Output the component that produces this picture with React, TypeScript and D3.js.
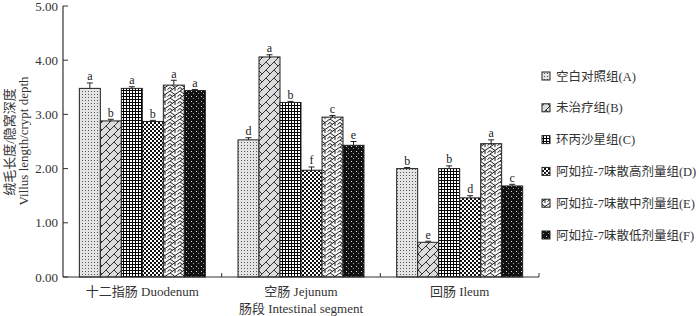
import React from "react";
import * as d3 from "d3";

const categories = ["十二指肠 Duodenum", "空肠 Jejunum", "回肠 Ileum"];
const groups = ["空白对照组(A)", "未治疗组(B)", "环丙沙星组(C)", "阿如拉-7味散高剂量组(D)", "阿如拉-7味散中剂量组(E)", "阿如拉-7味散低剂量组(F)"];
// values[group][category]
const values = [
  [3.48, 2.53, 2.0],
  [2.88, 4.06, 0.64],
  [3.48, 3.22, 2.0],
  [2.87, 1.97, 1.46],
  [3.54, 2.95, 2.46],
  [3.44, 2.43, 1.68],
];
const errors = [
  [0.1, 0.04, 0.02],
  [0.03, 0.04, 0.02],
  [0.03, 0.02, 0.05],
  [0.02, 0.06, 0.04],
  [0.09, 0.03, 0.07],
  [0.02, 0.07, 0.03],
];
const letters = [
  ["a", "d", "b"],
  ["b", "a", "e"],
  ["a", "b", "b"],
  ["b", "f", "d"],
  ["a", "c", "a"],
  ["a", "e", "c"],
];
const yTicks = [0, 1, 2, 3, 4, 5];

const serif = "'Liberation Serif', 'Times New Roman', serif";
const cjk = "'Liberation Serif', 'Noto Sans CJK SC', serif";

const Patterns = () => (
  <defs>
    <pattern id="pA" width="3" height="3" patternUnits="userSpaceOnUse">
      <rect width="3" height="3" fill="#e4e4e4" />
      <rect x="1" y="1" width="1" height="1" fill="#555" />
    </pattern>
    <pattern id="pB" width="8" height="8" patternUnits="userSpaceOnUse">
      <rect width="8" height="8" fill="#dcdcdc" />
      <path d="M0,8 L8,0 M-2,2 L2,-2 M6,10 L10,6" stroke="#333" strokeWidth="1" />
      <path d="M2,6 L4,8 M6,2 L4,0" stroke="#333" strokeWidth="1" />
    </pattern>
    <pattern id="pC" width="3" height="3" patternUnits="userSpaceOnUse">
      <rect width="3" height="3" fill="#000" />
      <rect x="1" y="1" width="2" height="2" fill="#fff" />
    </pattern>
    <pattern id="pD" width="4" height="4" patternUnits="userSpaceOnUse">
      <rect width="4" height="4" fill="#fff" />
      <rect x="0" y="0" width="2" height="2" fill="#111" />
      <rect x="2" y="2" width="2" height="2" fill="#111" />
    </pattern>
    <pattern id="pE" width="10" height="7" patternUnits="userSpaceOnUse">
      <rect width="10" height="7" fill="#f4f4f4" />
      <path d="M0,0 L5,3.5 L10,0 M0,7 L5,3.5 M5,3.5 L5,7" stroke="#222" strokeWidth="1" fill="none" />
      <path d="M0,3.5 L2.5,5.5 M10,3.5 L7.5,5.5" stroke="#222" strokeWidth="1" fill="none" />
    </pattern>
    <pattern id="pF" width="5" height="5" patternUnits="userSpaceOnUse">
      <rect width="5" height="5" fill="#111" />
      <rect x="1" y="1" width="1" height="1" fill="#ddd" />
      <rect x="3" y="3" width="1" height="1" fill="#999" />
    </pattern>
  </defs>
);

const pats = ["pA", "pB", "pC", "pD", "pE", "pF"];

export default function App() {
  const left = 63, right = 539, top = 6, bottom = 277;
  const y = d3.scaleLinear().domain([0, 5]).range([bottom, top]);
  const x0 = d3.scaleBand().domain(categories).range([left, right]).paddingInner(0).paddingOuter(0);
  const inner = 126;
  const x1 = d3.scaleBand().domain(groups).range([0, inner]);
  const pad = (x0.bandwidth() - inner) / 2;

  return (
    <svg width={700} height={316} style={{ position: "absolute", left: 0, top: 0 }}>
      <Patterns />
      {/* bars */}
      {categories.map((c, ci) =>
        groups.map((g, gi) => {
          const bx = (x0(c) as number) + pad + (x1(g) as number);
          const v = values[gi][ci];
          const e = errors[gi][ci];
          const bw = x1.bandwidth();
          const cx = bx + bw / 2;
          return (
            <g key={c + g}>
              <rect x={bx} y={y(v)} width={bw} height={bottom - y(v)} fill={`url(#${pats[gi]})`} stroke="#222" strokeWidth={1} />
              <line x1={cx} x2={cx} y1={y(v)} y2={y(v + e)} stroke="#222" strokeWidth={1} />
              <line x1={cx - 3} x2={cx + 3} y1={y(v + e)} y2={y(v + e)} stroke="#222" strokeWidth={1} />
              <text x={cx} y={y(v + e) - 2.5} textAnchor="middle" fontFamily={serif} fontSize={12} fill="#222">
                {letters[gi][ci]}
              </text>
            </g>
          );
        })
      )}
      {/* y axis */}
      <line x1={left} x2={left} y1={top} y2={bottom} stroke="#333" strokeWidth={1.2} />
      {yTicks.map((t) => (
        <g key={t}>
          <line x1={left} x2={left + 5} y1={y(t)} y2={y(t)} stroke="#333" strokeWidth={1} />
          <text x={left - 5} y={y(t) + 4.5} textAnchor="end" fontFamily={serif} fontSize={13} fill="#333">
            {t.toFixed(2)}
          </text>
        </g>
      ))}
      {/* x axis */}
      <line x1={left} x2={right} y1={bottom} y2={bottom} stroke="#333" strokeWidth={1.2} />
      {[1, 2, 3].map((i) => {
        const xx = left + i * x0.bandwidth();
        return <line key={i} x1={xx} x2={xx} y1={bottom} y2={bottom - 4} stroke="#333" strokeWidth={1} />;
      })}
      {categories.map((c) => (
        <text key={c} x={(x0(c) as number) + x0.bandwidth() / 2} y={296} textAnchor="middle" fontFamily={cjk} fontSize={13} fill="#333">
          {c}
        </text>
      ))}
      <text x={301} y={313} textAnchor="middle" fontFamily={cjk} fontSize={13} fill="#333">
        肠段 Intestinal segment
      </text>
      {/* y label */}
      <text transform="translate(14,142) rotate(-90)" textAnchor="middle" fontFamily={cjk} fontSize={13} fill="#333">
        绒毛长度/隐窝深度
      </text>
      <text transform="translate(28,141) rotate(-90)" textAnchor="middle" fontFamily={serif} fontSize={13} fill="#333">
        Villus length/crypt depth
      </text>
      {/* legend */}
      {groups.map((g, gi) => {
        const ly = 76 + gi * 31.8;
        return (
          <g key={g}>
            <rect x={542} y={ly - 4} width={8} height={8} fill={`url(#${pats[gi]})`} stroke="#222" strokeWidth={1} />
            <text x={556} y={ly + 4.5} fontFamily={cjk} fontSize={12.5} fill="#333">
              {g}
            </text>
          </g>
        );
      })}
    </svg>
  );
}
